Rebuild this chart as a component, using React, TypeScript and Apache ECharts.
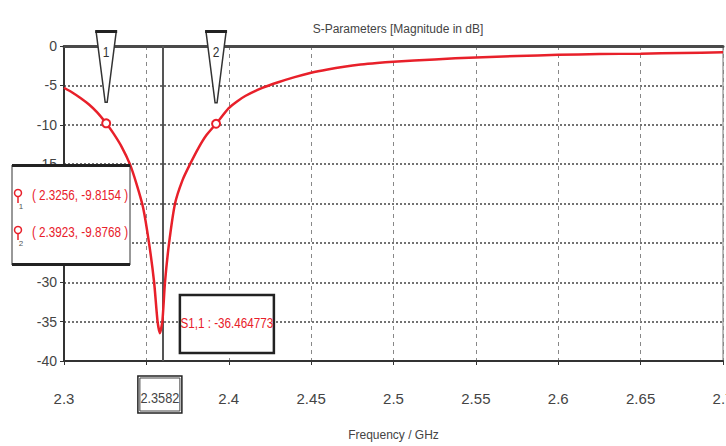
import { useEffect, useRef } from "react";
import * as echarts from "echarts";

const freqGHz = [
  2.3, 2.305, 2.31, 2.315, 2.32, 2.3256, 2.33, 2.335, 2.34, 2.344, 2.348, 2.3516,
  2.3547, 2.3568, 2.3582, 2.3597, 2.3613, 2.3638, 2.3674, 2.372, 2.3765, 2.382, 2.3865,
  2.3923, 2.4, 2.405, 2.41, 2.42, 2.43, 2.44, 2.45, 2.46, 2.47, 2.48, 2.49, 2.5, 2.525,
  2.55, 2.575, 2.6, 2.625, 2.65, 2.675, 2.7,
];
const s11dB = [
  -5.3, -5.9, -6.6, -7.4, -8.4, -9.8154, -11.1, -12.8, -15.0, -17.5, -20.5, -25.0,
  -30.0, -35.0, -36.464773, -35.0, -30.0, -25.0, -20.0, -17.0, -15.0, -12.8, -11.3,
  -9.8768, -7.9, -7.05, -6.35, -5.35, -4.6, -3.95, -3.4, -2.98, -2.63, -2.35, -2.15,
  -2.0, -1.7, -1.45, -1.27, -1.12, -1.03, -0.97, -0.88, -0.8,
];
const markerIds = ["1", "2"];
const markerFreq = [2.3256, 2.3923];
const markerDb = [-9.8154, -9.8768];
const minFreq = 2.3582;
const minDb = -36.464773;
const hiddenTick = 2.35;
const titleText = "S-Parameters [Magnitude in dB]";
const xAxisName = "Frequency / GHz";

const FONT = "'Liberation Sans', Arial, sans-serif";
const RED = "#e8202a";

export default function App() {
  const ref = useRef<HTMLDivElement>(null);
  useEffect(() => {
    const chart = echarts.init(ref.current!, null, { renderer: "svg" });
    chart.setOption({
      animation: false,
      backgroundColor: "#ffffff",
      title: {
        text: titleText,
        left: 393,
        top: 18,
        textAlign: "center",
        textStyle: { fontFamily: FONT, fontSize: 12, fontWeight: "normal", color: "#444" },
      },
      grid: {
        left: 64, right: 3, top: 46, bottom: 85,
        outerBoundsMode: "none", containLabel: false,
        show: true, borderColor: "#777", borderWidth: 1, backgroundColor: "#fff",
      },
      xAxis: [
        {
          type: "value",
          min: 2.3,
          max: 2.7,
          interval: 0.05,
          name: xAxisName,
          nameLocation: "middle",
          nameGap: 68,
          nameTextStyle: { fontFamily: FONT, fontSize: 12, color: "#444" },
          axisLine: { show: true, onZero: false, lineStyle: { color: "#333", width: 2 } },
          axisTick: { show: true, length: 4, inside: false, lineStyle: { color: "#333" } },
          axisLabel: {
            fontFamily: FONT, fontSize: 15, color: "#444", margin: 30,
            hideOverlap: false,
            formatter: (v: number) => (Math.abs(v - hiddenTick) < 1e-6 ? "" : String(Math.round(v * 100) / 100)),
          },
          splitLine: { show: true, lineStyle: { color: "#888", type: [4, 4], width: 1 } },
        },
        {
          type: "value",
          position: "top",
          min: 2.3,
          max: 2.7,
          axisLine: { show: true, lineStyle: { color: "#4a4a4a", width: 3 } },
          axisTick: { show: false },
          axisLabel: { show: false },
          splitLine: { show: false },
        },
      ],
      yAxis: {
        type: "value",
        min: -40,
        max: 0,
        interval: 5,
        axisLine: { show: true, onZero: false, lineStyle: { color: "#333", width: 2 } },
        axisTick: { show: true, length: 4, lineStyle: { color: "#333" } },
        axisLabel: { fontFamily: FONT, fontSize: 14, color: "#444", margin: 7 },
        splitLine: { show: true, lineStyle: { color: "#444", type: [2, 2], width: 1.5 } },
      },
      series: [
        {
          type: "line",
          xAxisIndex: 0,
          data: freqGHz.map((f, i) => [f, s11dB[i]]),
          showSymbol: false,
          smooth: 0.2,
          lineStyle: { color: RED, width: 2.5 },
          itemStyle: { color: RED },
          z: 3,
          markLine: {
            silent: true,
            symbol: "none",
            label: { show: false },
            lineStyle: { color: "#555", width: 2, type: "solid" },
            data: [{ xAxis: minFreq }],
            z: 2,
          },
          markPoint: {
            silent: true,
            symbol: "circle",
            symbolSize: 8,
            itemStyle: { color: "#fff", borderColor: RED, borderWidth: 2 },
            label: { show: false },
            data: markerFreq.map((f, i) => ({ coord: [f, markerDb[i]] })),
          },
        },
      ],
    });

    const toPx = (f: number, v: number) => chart.convertToPixel({ seriesIndex: 0 }, [f, v]) as number[];
    const top = toPx(2.3, 0)[1];
    const graphics: any[] = [];
    markerFreq.forEach((f, i) => {
      const [px, py] = toPx(f, markerDb[i]);
      graphics.push({
        type: "polygon",
        shape: { points: [[px - 10, top - 14], [px + 10, top - 14], [px + 1, py - 21], [px - 1, py - 21]] },
        style: { fill: "#fff", stroke: "#333", lineWidth: 1.5 },
        z: 20,
      });
      graphics.push({
        type: "rect",
        shape: { x: px - 11, y: top - 16, width: 22, height: 3 },
        style: { fill: "#222" },
        z: 21,
      });
      graphics.push({
        type: "text",
        x: px,
        y: top + 6,
        scaleX: 0.8,
        style: { text: markerIds[i], fontFamily: FONT, fontSize: 15, fill: "#333", align: "center", verticalAlign: "middle" },
        z: 22,
      });
    });

    // marker table box
    const boxX = 12, boxY = 165, boxW = 118, boxH = 100;
    graphics.push({ type: "rect", shape: { x: boxX, y: boxY, width: boxW, height: boxH }, style: { fill: "#fff", stroke: "#333", lineWidth: 1 }, z: 30 });
    graphics.push({ type: "rect", shape: { x: boxX, y: boxY - 1, width: boxW, height: 3 }, style: { fill: "#222" }, z: 31 });
    graphics.push({ type: "rect", shape: { x: boxX, y: boxY + boxH - 2, width: boxW, height: 3 }, style: { fill: "#222" }, z: 31 });
    markerFreq.forEach((f, i) => {
      const cy = boxY + 30 + i * 37;
      graphics.push({ type: "circle", shape: { cx: boxX + 6, cy: cy - 2, r: 3.5 }, style: { fill: "#fff", stroke: RED, lineWidth: 1.5 }, z: 32 });
      graphics.push({ type: "line", shape: { x1: boxX + 6, y1: cy + 2, x2: boxX + 6, y2: cy + 8 }, style: { stroke: RED, lineWidth: 1.5 }, z: 32 });
      graphics.push({
        type: "text", x: boxX + 9, y: cy + 11,
        style: { text: markerIds[i], fontFamily: FONT, fontSize: 8, fill: "#555", align: "center", verticalAlign: "middle" }, z: 32,
      });
      graphics.push({
        type: "text", x: boxX + 68, y: cy,
        scaleX: 0.78,
        style: {
          text: `( ${f.toFixed(4)}, ${markerDb[i].toFixed(4)} )`,
          fontFamily: FONT, fontSize: 15, fill: RED, align: "center", verticalAlign: "middle",
        },
        z: 32,
      });
    });

    // minimum annotation box
    const [mx] = toPx(minFreq, minDb);
    const bottom = toPx(2.3, -40)[1];
    graphics.push({ type: "rect", shape: { x: mx + 20, y: 295, width: 94, height: 58 }, style: { fill: "#fff", stroke: "#222", lineWidth: 2.5 }, z: 30 });
    graphics.push({
      type: "text", x: mx + 67, y: 323, scaleX: 0.78,
      style: { text: `S1,1 : ${minDb}`, fontFamily: FONT, fontSize: 15, fill: RED, align: "center", verticalAlign: "middle" }, z: 31,
    });
    // x marker label box
    graphics.push({ type: "rect", shape: { x: mx - 22, y: bottom + 15, width: 44, height: 37 }, style: { fill: "#fff", stroke: "#222", lineWidth: 1.5 }, z: 30 });
    graphics.push({ type: "rect", shape: { x: mx - 20, y: bottom + 17, width: 40, height: 33 }, style: { fill: "#fff", stroke: "#444", lineWidth: 1 }, z: 30 });
    graphics.push({
      type: "text", x: mx, y: bottom + 37, scaleX: 0.85,
      style: { text: minFreq.toFixed(4), fontFamily: FONT, fontSize: 15, fill: "#444", align: "center", verticalAlign: "middle" }, z: 31,
    });

    chart.setOption({ graphic: graphics });
    return () => chart.dispose();
  }, []);
  return <div ref={ref} style={{ position: "absolute", left: 0, top: 0, width: 726, height: 446 }} />;
}
